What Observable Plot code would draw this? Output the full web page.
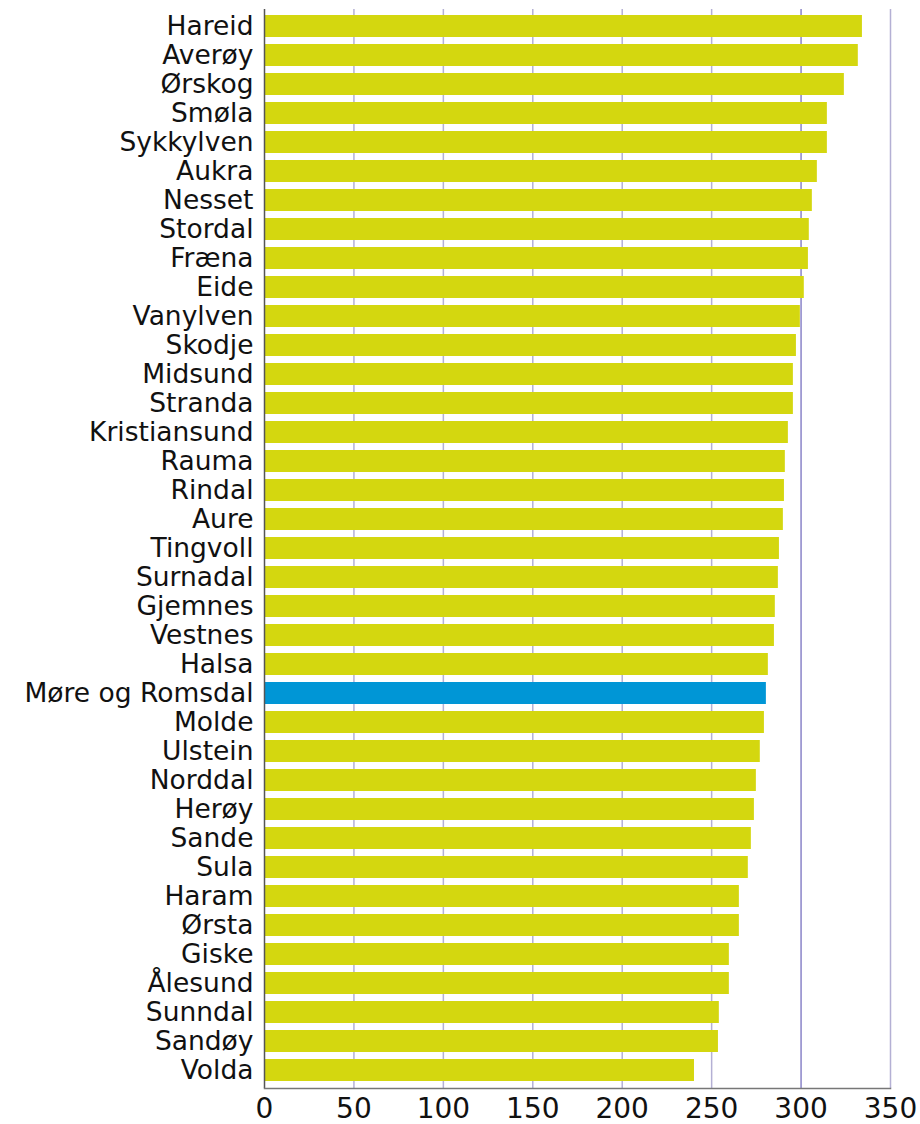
<!DOCTYPE html>
<html>
<head>
<meta charset="utf-8">
<script src="https://cdn.jsdelivr.net/npm/d3@7"></script>
<script src="https://cdn.jsdelivr.net/npm/@observablehq/plot@0.6"></script>
<style>
  html, body { margin: 0; padding: 0; background: #fff; }
  #chart { width: 920px; }
</style>
</head>
<body>
<div id="chart"></div>
<script>
const municipalities = [
  "Hareid", "Averøy", "Ørskog", "Smøla", "Sykkylven", "Aukra", "Nesset", "Stordal",
  "Fræna", "Eide", "Vanylven", "Skodje", "Midsund", "Stranda", "Kristiansund", "Rauma",
  "Rindal", "Aure", "Tingvoll", "Surnadal", "Gjemnes", "Vestnes", "Halsa", "Møre og Romsdal",
  "Molde", "Ulstein", "Norddal", "Herøy", "Sande", "Sula", "Haram", "Ørsta",
  "Giske", "Ålesund", "Sunndal", "Sandøy", "Volda"
];
const values = [
  334.3, 332.0, 324.2, 314.7, 314.7, 309.1, 306.3, 304.6,
  304.1, 301.8, 299.6, 297.4, 295.7, 295.7, 292.9, 291.2,
  290.7, 290.1, 287.9, 287.3, 285.6, 285.1, 281.7, 280.6,
  279.5, 277.2, 275.0, 273.9, 272.2, 270.5, 265.5, 265.5,
  259.9, 259.9, 254.3, 253.8, 240.4
];
const highlight = "Møre og Romsdal";
const xTicks = [0, 50, 100, 150, 200, 250, 300, 350];
const gridTicks = [50, 100, 150, 200, 250, 350];
const refLine = [300];

const data = municipalities.map((name, i) => ({ name, value: values[i] }));

const chart = Plot.plot({
  width: 920,
  height: 1124,
  marginTop: 9,
  marginBottom: 36,
  marginLeft: 264,
  marginRight: 30,
  style: { fontFamily: "DejaVu Sans, sans-serif", background: "#fff", color: "#111" },
  x: { domain: [0, 350], ticks: xTicks },
  y: { domain: municipalities, paddingInner: 0.24, paddingOuter: 0.12, label: null },
  color: { type: "identity" },
  marks: [
    Plot.ruleX(gridTicks, { stroke: "#b4b0d4", strokeWidth: 1.5 }),
    Plot.ruleX(refLine, { stroke: "#8a84c8", strokeWidth: 1.5 }),
    Plot.barX(data, {
      y: "name",
      x1: 0,
      x2: "value",
      fill: d => d.name === highlight ? "#0096d6" : "#d4d70f"
    }),
    Plot.ruleX([0], { stroke: "#555", strokeWidth: 1.5 }),
    Plot.frame({ anchor: "bottom", stroke: "#777", strokeWidth: 1.5 }),
    Plot.axisY({ tickSize: 0, tickPadding: 11, fontSize: 26.5, label: null }),
    Plot.axisX({ ticks: xTicks, tickSize: 0, tickPadding: 10, fontSize: 28, label: null })
  ]
});
document.getElementById("chart").appendChild(chart);
</script>
</body>
</html>
